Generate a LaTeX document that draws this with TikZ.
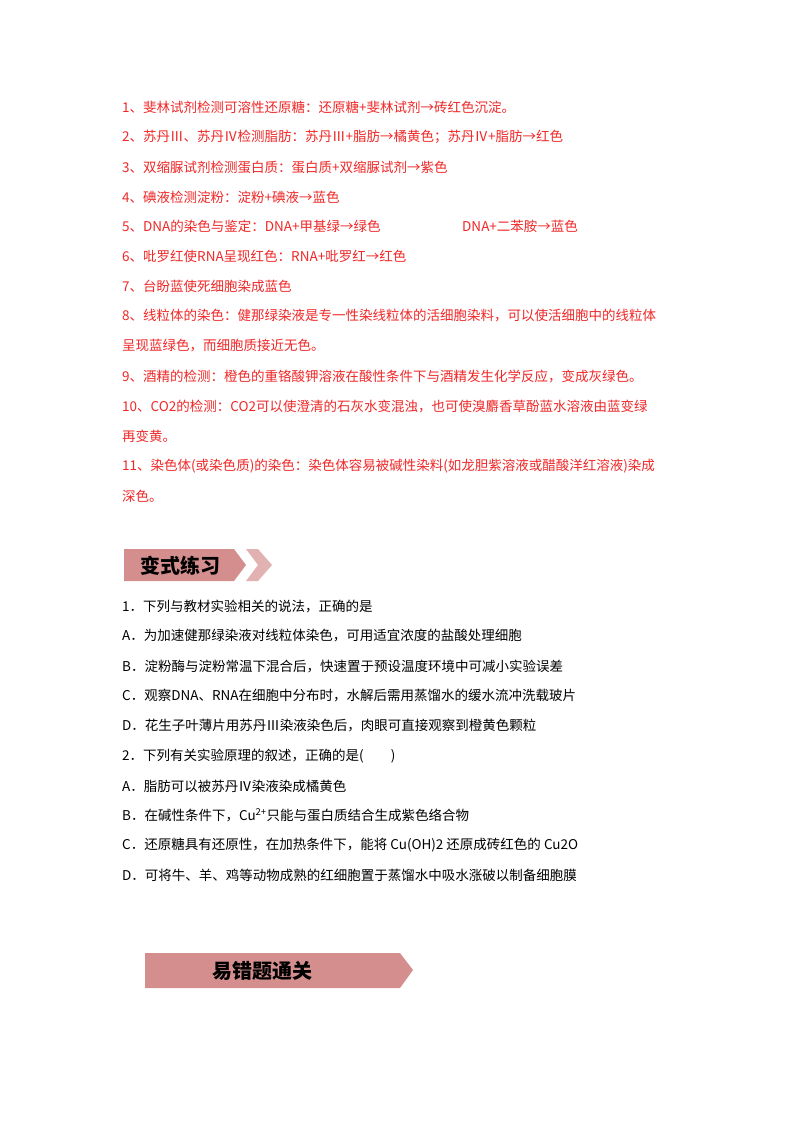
\documentclass[tikz,border=0pt]{standalone}
\usepackage{fontspec}
\setmainfont{Noto Sans CJK SC}
\newfontfamily\bannerfont{Noto Sans CJK SC Black}
\usetikzlibrary{positioning}
\definecolor{notered}{RGB}{240,40,40}
\definecolor{bannerpink}{RGB}{212,142,142}
\definecolor{chevronpink}{RGB}{226,178,178}
\tikzset{
  redline/.style={anchor=west,text=notered,inner sep=0pt,font=\fontsize{13.5}{14}\selectfont},
  blackline/.style={anchor=west,text=black,inner sep=0pt,font=\fontsize{13.5}{14}\selectfont},
  bannertext/.style={font=\bannerfont\fontsize{20}{22}\selectfont,text=black}
}
\begin{document}
\begin{tikzpicture}[x=1pt,y=-1pt]
\useasboundingbox (0,0) rectangle (800,1132);
\fill[white] (0,0) rectangle (800,1132);

% knowledge points
\node[redline] (k1) at (122,107) {1、斐林试剂检测可溶性还原糖：还原糖+斐林试剂→砖红色沉淀。};
\node[redline] (k2) at (122,137) {2、苏丹Ⅲ、苏丹Ⅳ检测脂肪：苏丹Ⅲ+脂肪→橘黄色；苏丹Ⅳ+脂肪→红色};
\node[redline] (k3) at (122,167) {3、双缩脲试剂检测蛋白质：蛋白质+双缩脲试剂→紫色};
\node[redline] (k4) at (122,197) {4、碘液检测淀粉：淀粉+碘液→蓝色};
\node[redline] (k5) at (122,226) {5、DNA的染色与鉴定：DNA+甲基绿→绿色};
\node[redline] (k5b) at (462,226) {DNA+二苯胺→蓝色};
\node[redline] (k6) at (122,256) {6、吡罗红使RNA呈现红色：RNA+吡罗红→红色};
\node[redline] (k7) at (122,286) {7、台盼蓝使死细胞染成蓝色};
\node[redline] (k8) at (122,316) {8、线粒体的染色：健那绿染液是专一性染线粒体的活细胞染料，可以使活细胞中的线粒体};
\node[redline] (k8b) at (122,346) {呈现蓝绿色，而细胞质接近无色。};
\node[redline] (k9) at (122,376) {9、酒精的检测：橙色的重铬酸钾溶液在酸性条件下与酒精发生化学反应，变成灰绿色。};
\node[redline] (k10) at (122,406) {10、CO2的检测：CO2可以使澄清的石灰水变混浊，也可使溴麝香草酚蓝水溶液由蓝变绿};
\node[redline] (k10b) at (122,436) {再变黄。};
\node[redline] (k11) at (122,466) {11、染色体(或染色质)的染色：染色体容易被碱性染料(如龙胆紫溶液或醋酸洋红溶液)染成};
\node[redline] (k11b) at (122,496) {深色。};

% banner 1
\fill[bannerpink] (124,549) -- (234,549) -- (246,565) -- (234,581) -- (124,581) -- cycle;
\fill[chevronpink] (246,549) -- (258,549) -- (272,565) -- (258,581) -- (246,581) -- (258,565) -- cycle;
\node[bannertext] (b1) at (180,566) {变式练习};

% exercises
\node[blackline] (q1) at (122,606) {1．下列与教材实验相关的说法，正确的是};
\node[blackline] (q1a) at (122,636) {A．为加速健那绿染液对线粒体染色，可用适宜浓度的盐酸处理细胞};
\node[blackline] (q1b) at (122,666) {B．淀粉酶与淀粉常温下混合后，快速置于预设温度环境中可减小实验误差};
\node[blackline] (q1c) at (122,696) {C．观察DNA、RNA在细胞中分布时，水解后需用蒸馏水的缓水流冲洗载玻片};
\node[blackline] (q1d) at (122,726) {D．花生子叶薄片用苏丹Ⅲ染液染色后，肉眼可直接观察到橙黄色颗粒};
\node[blackline] (q2) at (122,756) {2．下列有关实验原理的叙述，正确的是(\hspace{2em})};
\node[blackline] (q2a) at (122,786) {A．脂肪可以被苏丹Ⅳ染液染成橘黄色};
\node[blackline] (q2b) at (122,815) {B．在碱性条件下，Cu\textsuperscript{2+}只能与蛋白质结合生成紫色络合物};
\node[blackline] (q2c) at (122,845) {C．还原糖具有还原性，在加热条件下，能将 Cu(OH)2 还原成砖红色的 Cu2O};
\node[blackline] (q2d) at (122,875) {D．可将牛、羊、鸡等动物成熟的红细胞置于蒸馏水中吸水涨破以制备细胞膜};

% banner 2
\fill[bannerpink] (145,953) -- (400,953) -- (413,970) -- (400,988) -- (145,988) -- cycle;
\node[bannertext] (b2) at (262,971) {易错题通关};
\end{tikzpicture}
\end{document}
